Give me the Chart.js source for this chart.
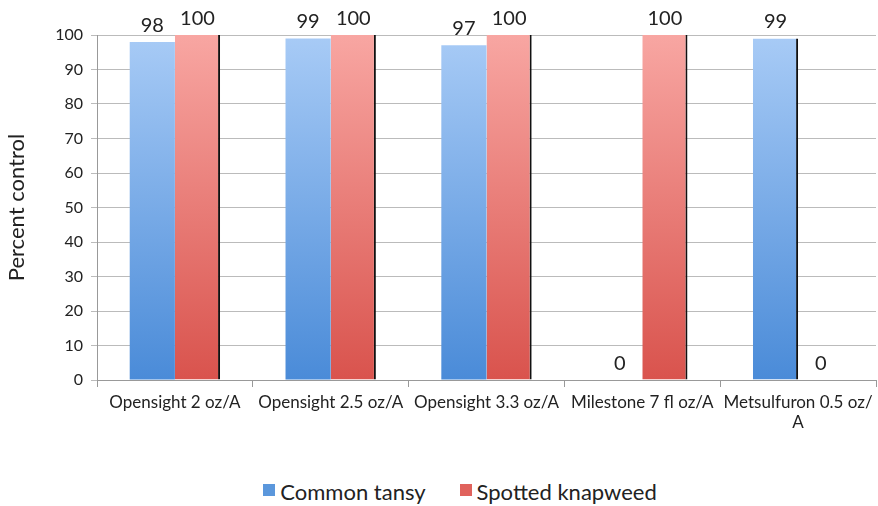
<!DOCTYPE html>
<html lang="en">
<head>
    <meta charset="UTF-8">
    <title>Percent control</title>
    <script src="https://cdn.jsdelivr.net/npm/chart.js"></script>
    <style>
        body {
            margin: 0;
            background: #fff;
            font-family: Lato, "Open Sans", sans-serif;
        }

        .wrap {
            width: 878px;
            height: 470px;
        }

        .legenda {
            width: 878px;
            height: 36px;
            box-sizing: border-box;
            padding-left: 42px;
            padding-top: 6px;
            display: flex;
            justify-content: center;
            align-items: center;
            gap: 34px;
            font-size: 22px;
            color: #222;
        }

        .legenda span {
            display: flex;
            align-items: center;
        }

        .legenda i {
            display: inline-block;
            width: 12px;
            height: 12px;
            margin-right: 5px;
            margin-top: -3px;
        }
    </style>
</head>
<body>

    <div class="wrap">
        <canvas id="grafico"></canvas>
    </div>
    <div class="legenda" id="legenda"></div>

    <script>
        const categorias = [
            "Opensight 2 oz/A",
            "Opensight 2.5 oz/A",
            "Opensight 3.3 oz/A",
            "Milestone 7 fl oz/A",
            ["Metsulfuron 0.5 oz/", "A"]
        ];
        const tansy = [98, 99, 97, 0, 99];
        const knapweed = [100, 100, 100, 100, 0];
        const yTicks = [0, 10, 20, 30, 40, 50, 60, 70, 80, 90, 100];

        const fonte = "Lato, 'Open Sans', sans-serif";

        function gradiente(ctx, topo, base) {
            const area = ctx.chart.chartArea;
            if (!area) return base;
            const g = ctx.chart.ctx.createLinearGradient(0, area.top, 0, area.bottom);
            g.addColorStop(0, topo);
            g.addColorStop(1, base);
            return g;
        }

        // rótulos de valor acima das barras
        const rotulos = {
            id: "rotulos",
            afterDatasetsDraw(chart) {
                const ctx = chart.ctx;
                ctx.save();
                ctx.font = "20px " + fonte;
                ctx.fillStyle = "#222";
                ctx.textAlign = "center";
                ctx.textBaseline = "alphabetic";
                chart.data.datasets.forEach((ds, i) => {
                    chart.getDatasetMeta(i).data.forEach((bar, j) => {
                        ctx.fillText(String(ds.data[j]), bar.x, bar.y - 10);
                    });
                });
                ctx.restore();
            }
        };

        const grafico = new Chart(document.getElementById("grafico"), {
            type: "bar",
            data: {
                labels: categorias,
                datasets: [
                    {
                        label: "Common tansy",
                        data: tansy,
                        backgroundColor: c => gradiente(c, "#a8cbf6", "#4a8bd8"),
                        borderColor: "#111",
                        borderSkipped: false,
                        borderWidth: c => ({ top: 0, left: 0, bottom: 0, right: knapweed[c.dataIndex] === 0 ? 2 : 0 }),
                        categoryPercentage: 0.58,
                        barPercentage: 1
                    },
                    {
                        label: "Spotted knapweed",
                        data: knapweed,
                        backgroundColor: c => gradiente(c, "#f8a6a2", "#d9534d"),
                        borderColor: "#111",
                        borderSkipped: false,
                        borderWidth: { top: 0, left: 0, bottom: 0, right: 2 },
                        categoryPercentage: 0.58,
                        barPercentage: 1
                    }
                ]
            },
            options: {
                responsive: true,
                maintainAspectRatio: false,
                animation: false,
                layout: { padding: { top: 35, right: 2, left: 4, bottom: 0 } },
                plugins: {
                    tooltip: { enabled: false },
                    legend: { display: false }
                },
                scales: {
                    x: {
                        afterFit: s => { s.height = 90; },
                        grid: {
                            offset: true,
                            drawOnChartArea: false,
                            drawTicks: true,
                            tickLength: 7,
                            color: "#999"
                        },
                        border: { color: "#999" },
                        ticks: {
                            font: { family: fonte, size: 17 },
                            color: "#222",
                            maxRotation: 0,
                            padding: 5
                        }
                    },
                    y: {
                        min: 0,
                        max: 100,
                        afterFit: s => { s.width = 93; },
                        afterBuildTicks: axis => { axis.ticks = yTicks.map(v => ({ value: v })); },
                        grid: { color: "#bbb", tickLength: 6 },
                        border: { color: "#999" },
                        ticks: {
                            font: { family: fonte, size: 16 },
                            color: "#222",
                            padding: 8
                        },
                        title: {
                            display: true,
                            text: "Percent control",
                            font: { family: fonte, size: 22 },
                            color: "#222",
                            padding: { top: 0, bottom: 0 }
                        }
                    }
                }
            },
            plugins: [rotulos]
        });

        // legenda em HTML
        const coresLegenda = ["#5b97dc", "#e0625c"];
        const legenda = document.getElementById("legenda");
        grafico.data.datasets.forEach((ds, i) => {
            const item = document.createElement("span");
            item.innerHTML = `<i style="background:${coresLegenda[i]}"></i>${ds.label}`;
            legenda.appendChild(item);
        });
    </script>

</body>
</html>
